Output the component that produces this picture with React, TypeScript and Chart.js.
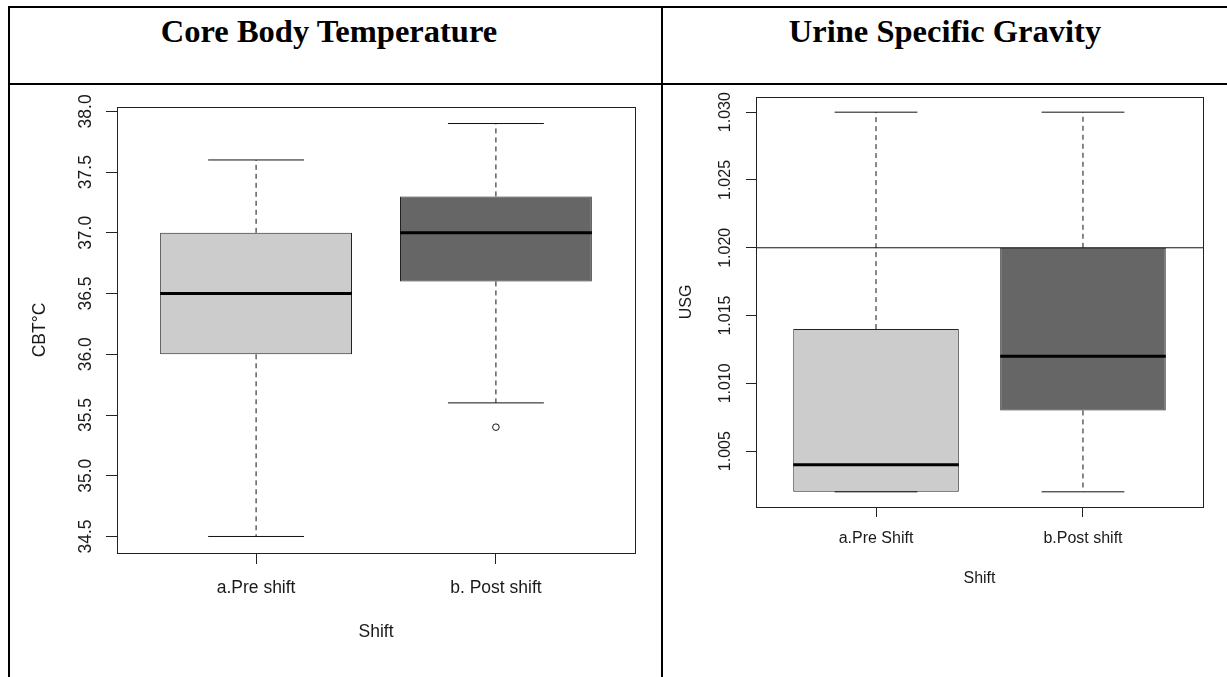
import React, { useEffect, useRef } from "react";
import { Chart, registerables } from "chart.js";

Chart.register(...registerables);

// ---------- Core Body Temperature data ----------
const CBT_GROUPS = ["a.Pre shift", "b. Post shift"];
const CBT_LOWER = [34.5, 35.6];
const CBT_Q1 = [36.0, 36.6];
const CBT_MEDIAN = [36.5, 37.0];
const CBT_Q3 = [37.0, 37.3];
const CBT_UPPER = [37.6, 37.9];
const CBT_OUTLIERS: number[][] = [[], [35.4]];
const CBT_TICKS = [34.5, 35.0, 35.5, 36.0, 36.5, 37.0, 37.5, 38.0];
const CBT_TICK_LABELS = ["34.5", "35.0", "35.5", "36.0", "36.5", "37.0", "37.5", "38.0"];
const CBT_REFERENCE: number[] = [];

// ---------- Urine Specific Gravity data ----------
const USG_GROUPS = ["a.Pre Shift", "b.Post shift"];
const USG_LOWER = [1.002, 1.002];
const USG_Q1 = [1.002, 1.008];
const USG_MEDIAN = [1.004, 1.012];
const USG_Q3 = [1.014, 1.02];
const USG_UPPER = [1.03, 1.03];
const USG_OUTLIERS: number[][] = [[], []];
const USG_TICKS = [1.005, 1.01, 1.015, 1.02, 1.025, 1.03];
const USG_TICK_LABELS = ["1.005", "1.010", "1.015", "1.020", "1.025", "1.030"];
const USG_REFERENCE = [1.02];

// box geometry in category units (R boxplot defaults)
const BOX_WIDTH = 0.8;
const CAP_WIDTH = 0.4;

const SANS = '"Liberation Sans", Arial, Helvetica, sans-serif';

interface Spec {
  groups: string[];
  lower: number[];
  q1: number[];
  median: number[];
  q3: number[];
  upper: number[];
  outliers: number[][];
  ticks: number[];
  tickLabels: string[];
  reference: number[];
  xTitle: string;
  yTitle: string;
}

interface Geo {
  left: number;
  top: number;
  width: number;
  height: number;
  areaLeft: number;
  areaTop: number;
  areaRight: number;
  areaBottom: number;
  font: number;
  tickLength: number;
  xLabelPad: number;
  xTitlePad: number;
  yTitlePad: number;
  yLabelOffset: number;
}

const frameLabels = {
  id: "frameLabels",
  afterDatasetsDraw(chart: any, _args: any, opts: any) {
    const { ctx, chartArea: a } = chart;
    const y = chart.scales.y;
    ctx.save();
    ctx.strokeStyle = "#222";
    ctx.lineWidth = 1;
    ctx.strokeRect(a.left + 0.5, a.top + 0.5, a.right - a.left, a.bottom - a.top);
    ctx.fillStyle = "#1a1a1a";
    ctx.font = `${opts.size}px ${SANS}`;
    ctx.textAlign = "center";
    ctx.textBaseline = "middle";
    y.ticks.forEach((t: any, i: number) => {
      const py = y.getPixelForValue(t.value);
      ctx.save();
      ctx.translate(a.left - opts.offset, py);
      ctx.rotate(-Math.PI / 2);
      ctx.fillText(opts.labels[i], 0, 0);
      ctx.restore();
    });
    ctx.restore();
  },
};

function BoxPanel({ spec, geo }: { spec: Spec; geo: Geo }) {
  const ref = useRef<HTMLCanvasElement>(null);
  useEffect(() => {
    const pos = spec.groups.map((_, i) => i + 1);
    const allVals = [...spec.lower, ...spec.upper, ...spec.outliers.flat()];
    const lo = Math.min(...allVals);
    const hi = Math.max(...allVals);
    const yPad = (hi - lo) * 0.04;
    const xMin = 0.5 - pos.length * 0.04;
    const xMax = pos.length + 0.5 + pos.length * 0.04;

    const medians: any[] = [];
    const whiskers: any[] = [];
    const caps: any[] = [];
    const outs: any[] = [];
    pos.forEach((p, i) => {
      medians.push({ x: p - BOX_WIDTH / 2, y: spec.median[i] }, { x: p + BOX_WIDTH / 2, y: spec.median[i] }, { x: p, y: null });
      whiskers.push({ x: p, y: spec.q3[i] }, { x: p, y: spec.upper[i] }, { x: p, y: null });
      whiskers.push({ x: p, y: spec.q1[i] }, { x: p, y: spec.lower[i] }, { x: p, y: null });
      caps.push({ x: p - CAP_WIDTH / 2, y: spec.upper[i] }, { x: p + CAP_WIDTH / 2, y: spec.upper[i] }, { x: p, y: null });
      caps.push({ x: p - CAP_WIDTH / 2, y: spec.lower[i] }, { x: p + CAP_WIDTH / 2, y: spec.lower[i] }, { x: p, y: null });
      spec.outliers[i].forEach((v) => outs.push({ x: p, y: v }));
    });
    const refs: any[] = [];
    spec.reference.forEach((r) => refs.push({ x: xMin, y: r }, { x: xMax, y: r }, { x: xMax, y: null }));

    const lineBase = { type: "line", pointRadius: 0, fill: false, tension: 0, spanGaps: false };
    const chart = new Chart(ref.current as HTMLCanvasElement, {
      type: "bar",
      data: {
        datasets: [
          {
            type: "bar",
            data: pos.map((p, i) => ({ x: p, y: [spec.q1[i], spec.q3[i]] })),
            backgroundColor: ["#cccccc", "#666666"],
            borderColor: "#222",
            borderWidth: 1,
            borderSkipped: false,
            categoryPercentage: 1,
            barPercentage: BOX_WIDTH,
            order: 5,
          } as any,
          { ...lineBase, data: whiskers, borderColor: "#111", borderWidth: 1, borderDash: [5, 4], order: 4 } as any,
          { ...lineBase, data: caps, borderColor: "#111", borderWidth: 1, order: 3 } as any,
          { ...lineBase, data: refs, borderColor: "#111", borderWidth: 1, order: 2 } as any,
          { ...lineBase, data: medians, borderColor: "#000", borderWidth: 3, order: 1 } as any,
          {
            type: "scatter",
            data: outs,
            showLine: false,
            pointRadius: 3.3,
            pointBorderWidth: 1,
            pointBackgroundColor: "rgba(255,255,255,0)",
            pointBorderColor: "#111",
            order: 0,
          } as any,
        ],
      },
      options: {
        animation: false,
        responsive: false,
        events: [],
        layout: {
          padding: { left: 0, top: geo.areaTop, right: geo.width - geo.areaRight, bottom: 0 },
        },
        plugins: {
          legend: { display: false },
          tooltip: { enabled: false },
          frameLabels: { labels: spec.tickLabels, size: geo.font, offset: geo.yLabelOffset },
        } as any,
        scales: {
          x: {
            type: "linear",
            min: xMin,
            max: xMax,
            offset: false,
            bounds: "data",
            afterBuildTicks: (axis: any) => {
              axis.ticks = pos.map((v) => ({ value: v }));
            },
            afterFit: (axis: any) => {
              axis.height = geo.height - geo.areaBottom;
            },
            grid: {
              display: true,
              offset: false,
              drawOnChartArea: false,
              drawTicks: true,
              tickLength: geo.tickLength,
              color: "#222",
              lineWidth: 1,
            },
            border: { display: false },
            ticks: {
              autoSkip: false,
              maxRotation: 0,
              minRotation: 0,
              padding: geo.xLabelPad,
              color: "#1a1a1a",
              font: { family: SANS, size: geo.font },
              callback: (_v: any, i: number) => spec.groups[i],
            },
            title: {
              display: true,
              text: spec.xTitle,
              color: "#1a1a1a",
              font: { family: SANS, size: geo.font },
              padding: { top: 0, bottom: geo.xTitlePad },
            },
          },
          y: {
            type: "linear",
            min: lo - yPad,
            max: hi + yPad,
            bounds: "data",
            afterBuildTicks: (axis: any) => {
              axis.ticks = spec.ticks.map((v) => ({ value: v }));
            },
            afterFit: (axis: any) => {
              axis.width = geo.areaLeft;
            },
            grid: {
              display: true,
              offset: false,
              drawOnChartArea: false,
              drawTicks: true,
              tickLength: geo.tickLength,
              color: "#222",
              lineWidth: 1,
            },
            border: { display: false },
            ticks: { display: false },
            title: {
              display: true,
              text: spec.yTitle,
              color: "#1a1a1a",
              font: { family: SANS, size: geo.font },
              padding: { top: geo.yTitlePad, bottom: 0 },
            },
          },
        },
      } as any,
      plugins: [frameLabels],
    });
    return () => chart.destroy();
  }, []);
  return (
    <canvas
      ref={ref}
      width={geo.width}
      height={geo.height}
      style={{ position: "absolute", left: geo.left, top: geo.top, width: geo.width, height: geo.height }}
    />
  );
}

const cbtSpec: Spec = {
  groups: CBT_GROUPS,
  lower: CBT_LOWER,
  q1: CBT_Q1,
  median: CBT_MEDIAN,
  q3: CBT_Q3,
  upper: CBT_UPPER,
  outliers: CBT_OUTLIERS,
  ticks: CBT_TICKS,
  tickLabels: CBT_TICK_LABELS,
  reference: CBT_REFERENCE,
  xTitle: "Shift",
  yTitle: "CBT°C",
};

const usgSpec: Spec = {
  groups: USG_GROUPS,
  lower: USG_LOWER,
  q1: USG_Q1,
  median: USG_MEDIAN,
  q3: USG_Q3,
  upper: USG_UPPER,
  outliers: USG_OUTLIERS,
  ticks: USG_TICKS,
  tickLabels: USG_TICK_LABELS,
  reference: USG_REFERENCE,
  xTitle: "Shift",
  yTitle: "USG",
};

const cbtGeo: Geo = {
  left: 10, top: 85, width: 651, height: 592,
  areaLeft: 107, areaTop: 22, areaRight: 625, areaBottom: 468,
  font: 17.5, tickLength: 11, xLabelPad: 13.5, xTitlePad: 34.5, yTitlePad: 19.5, yLabelOffset: 31,
};

const usgGeo: Geo = {
  left: 663, top: 85, width: 564, height: 592,
  areaLeft: 93, areaTop: 12, areaRight: 540, areaBottom: 422,
  font: 16, tickLength: 10, xLabelPad: 12.4, xTitlePad: 88.9, yTitlePad: 13.9, yLabelOffset: 30,
};

const line = (s: React.CSSProperties): React.CSSProperties => ({ position: "absolute", background: "#000", ...s });

const titleStyle = (center: number): React.CSSProperties => ({
  position: "absolute",
  left: center - 250,
  width: 500,
  top: 15,
  textAlign: "center",
  fontFamily: '"Liberation Serif", "Times New Roman", serif',
  fontWeight: "bold",
  fontSize: 32.5,
  lineHeight: 1,
  color: "#000",
  whiteSpace: "nowrap",
});

export default function App() {
  return (
    <div style={{ position: "absolute", left: 0, top: 0, width: 1227, height: 677, background: "#fff", overflow: "hidden" }}>
      <div style={line({ left: 8, top: 6, width: 1219, height: 2 })} />
      <div style={line({ left: 8, top: 83, width: 1219, height: 2 })} />
      <div style={line({ left: 8, top: 6, width: 2, height: 671 })} />
      <div style={line({ left: 661, top: 6, width: 2, height: 671 })} />
      <div style={titleStyle(329)}>Core Body Temperature</div>
      <div style={titleStyle(945)}>Urine Specific Gravity</div>
      <BoxPanel spec={cbtSpec} geo={cbtGeo} />
      <BoxPanel spec={usgSpec} geo={usgGeo} />
    </div>
  );
}
